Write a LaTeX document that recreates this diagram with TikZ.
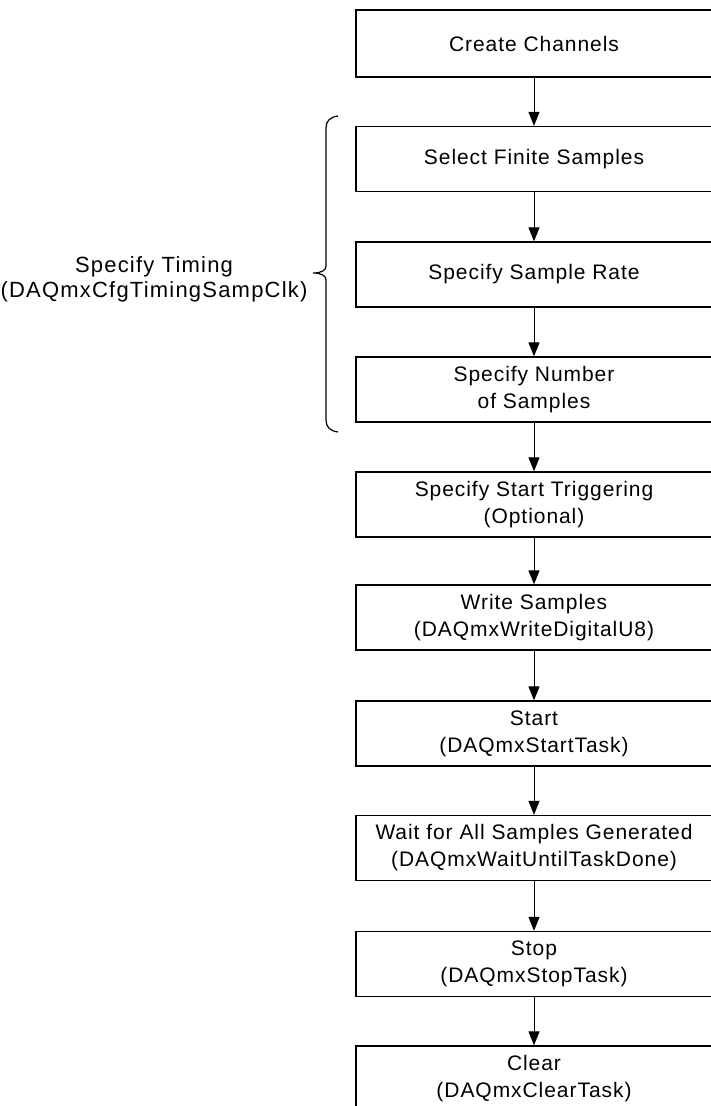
\documentclass[tikz,border=0pt]{standalone}
\usepackage{fontspec}
\setmainfont{Liberation Sans}[LetterSpace=4.5]
\newfontfamily\labelfont{Liberation Sans}[LetterSpace=5.5]
\usetikzlibrary{arrows.meta}
\begin{document}
\begin{tikzpicture}[x=1pt,y=-1pt,
  box/.style={draw=black, line width=1.3pt, minimum width=356pt, minimum height=65pt,
    align=center, inner sep=0pt, font=\fontsize{21}{27}\selectfont},
  flow/.style={line width=1pt, -{Triangle[width=11pt,length=14pt]}},
  lbl/.style={align=center, inner sep=0pt, font=\labelfont\fontsize{22}{25}\selectfont},
  bracestyle/.style={line width=1.2pt}]
\useasboundingbox (0,0) rectangle (710,1106);
\node[box, minimum height=67pt] (n1) at (534,43.5) {Create Channels};
\node[box] (n2) at (534,159) {Select Finite Samples};
\node[box] (n3) at (534,274.5) {Specify Sample Rate};
\node[box] (n4) at (534,389.5) {Specify Number\\of Samples};
\node[box] (n5) at (534,504.5) {Specify Start Triggering\\(Optional)};
\node[box] (n6) at (534,617.5) {Write Samples\\(DAQmxWriteDigitalU8)};
\node[box] (n7) at (534,733.5) {Start\\(DAQmxStartTask)};
\node[box] (n8) at (534,848) {Wait for All Samples Generated\\(DAQmxWaitUntilTaskDone)};
\node[box] (n9) at (534,964) {Stop\\(DAQmxStopTask)};
\node[box] (n10) at (534,1078.5) {Clear\\(DAQmxClearTask)};
\foreach \a/\b in {n1/n2,n2/n3,n3/n4,n4/n5,n5/n6,n6/n7,n7/n8,n8/n9,n9/n10}
  \draw[flow] (\a.south) -- (\b.north);
\node[lbl] (timing) at (154,279.5) {Specify Timing\\(DAQmxCfgTimingSampClk)};
\draw[bracestyle] (338,116) .. controls (330,117) and (326,121) .. (326,128)
  -- (326,266) .. controls (326,270) and (322,273) .. (313,273)
  .. controls (322,273) and (326,276) .. (326,280)
  -- (326,420) .. controls (326,427) and (330,431) .. (338,432);
\end{tikzpicture}
\end{document}
